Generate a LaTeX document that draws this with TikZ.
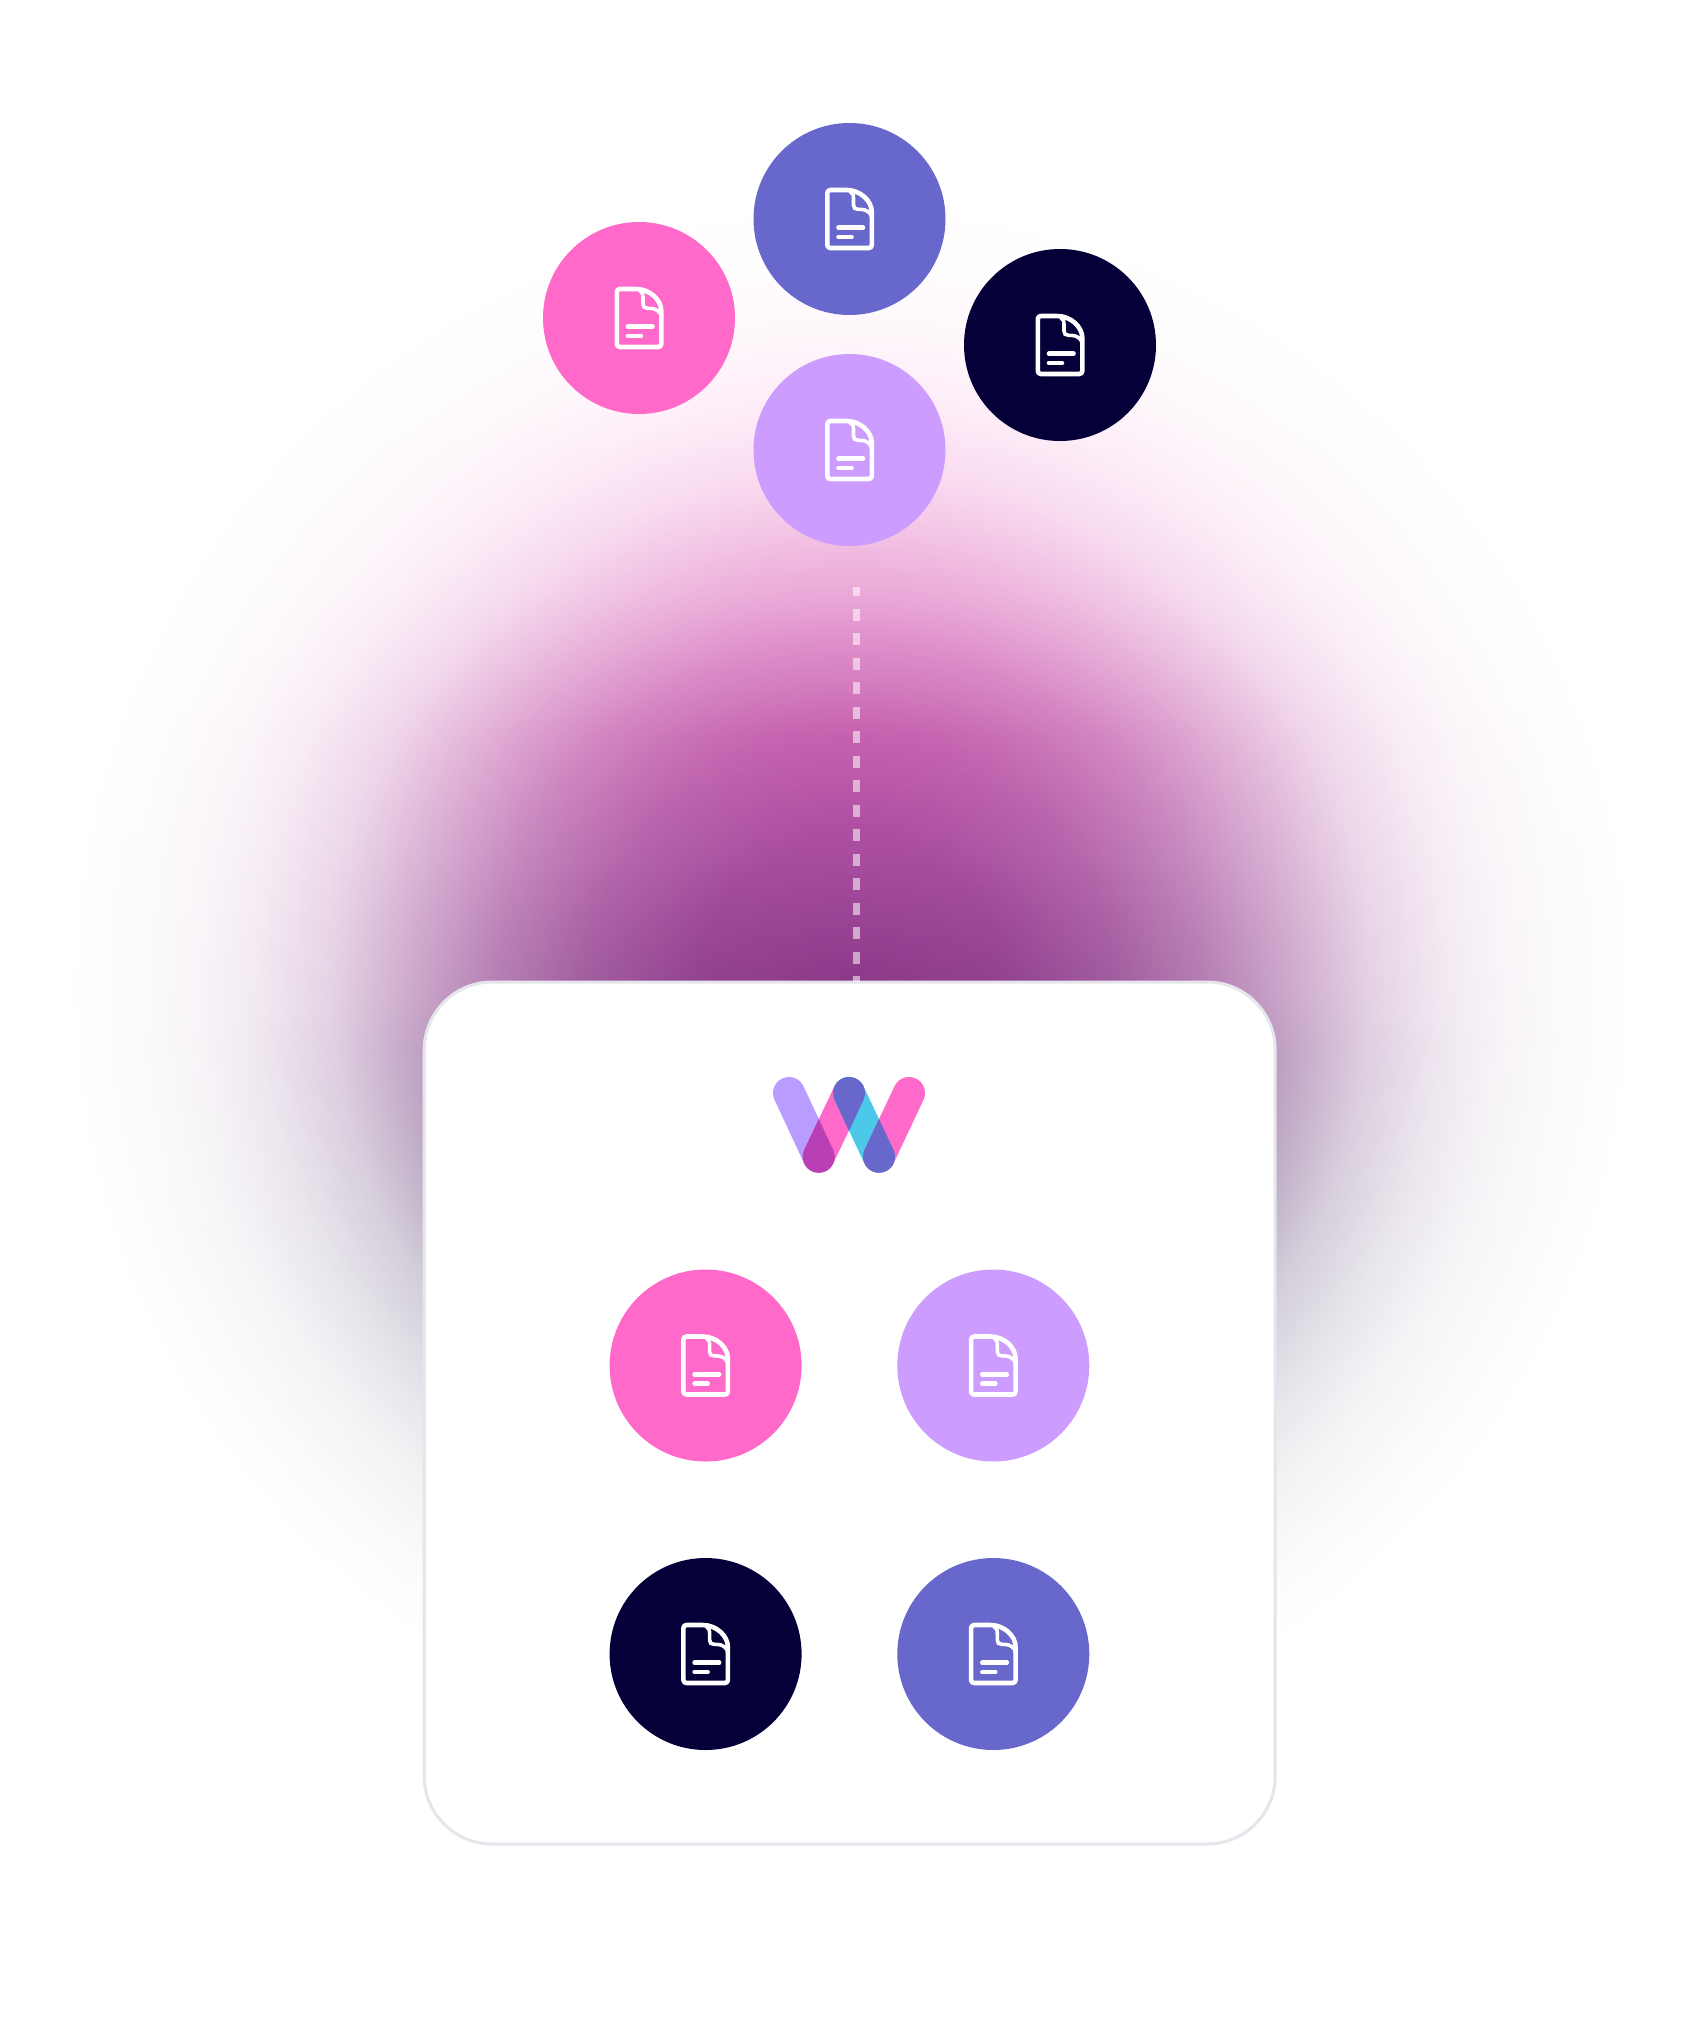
\documentclass[tikz,border=0pt]{standalone}
\usepackage{xcolor}
\usetikzlibrary{
    fadings,
    positioning
}
\definecolor{blobblue}{HTML}{6868CC}
\definecolor{blobpink}{HTML}{FF69C9}
\definecolor{bloblilac}{HTML}{CC9CFF}
\definecolor{blobnavy}{HTML}{050038}
\definecolor{logopurple}{HTML}{B99CFF}
\definecolor{logocyan}{HTML}{4CC8E8}
\definecolor{logoplum}{HTML}{B840B4}
\definecolor{cardline}{HTML}{E5E5EC}
\definecolor{glowa}{HTML}{D961B8}
\definecolor{glowb}{HTML}{BA43A0}
\definecolor{glowc}{HTML}{A5459A}
\definecolor{glowd}{HTML}{8A3888}
\definecolor{glowe}{HTML}{70287A}
\definecolor{glowf}{HTML}{3A2058}
\definecolor{glowg}{HTML}{101040}
\pgfdeclareverticalshading{glowband}{100bp}{
    color(0bp)=(blobnavy);
    color(35.7bp)=(glowg);
    color(42.2bp)=(glowf);
    color(48.4bp)=(glowe);
    color(50bp)=(glowd);
    color(53.8bp)=(glowc);
    color(57.2bp)=(glowb);
    color(61.1bp)=(glowa);
    color(69bp)=(blobpink);
    color(100bp)=(blobpink)}
\pgfdeclareradialshading{glowmask}{\pgfpointorigin}{
    color(0bp)=(pgftransparent!0);
    color(4.2bp)=(pgftransparent!5);
    color(7.2bp)=(pgftransparent!18);
    color(9.7bp)=(pgftransparent!35);
    color(11.9bp)=(pgftransparent!55);
    color(14.4bp)=(pgftransparent!78);
    color(16.4bp)=(pgftransparent!89);
    color(18.1bp)=(pgftransparent!95);
    color(20bp)=(pgftransparent!98.5);
    color(21.7bp)=(pgftransparent!100);
    color(50bp)=(pgftransparent!100)}
\pgfdeclarefading{glowfade}{\pgfuseshading{glowmask}}
\tikzset{
    blob/.style={circle, minimum size=192pt, inner sep=0pt, outer sep=0pt},
    fileicon/.pic={
        \draw[white, line width=4.6pt, rounded corners=3pt, line join=round]
        (-3, -29) -- (-22.2, -29) -- (-22.2, 29) -- (22.3, 29) -- (22.3, -4)
        .. controls (22.3, -18) and (11, -29) .. (-3, -29);
        \draw[white, line width=3.6pt, line cap=round]
        (1, -27) .. controls (3.5, -26) and (4, -24) .. (4, -20) -- (4, -14)
        .. controls (4, -11) and (5.5, -9.7) .. (8.6, -9.7) -- (11, -9.7)
        .. controls (17, -9.7) and (22, -6) .. (22.3, -1);
        \draw[white, line width=4.6pt, line cap=round]
        (-11, 8.7) -- (13.5, 8.7)
        (-11, 18) -- (2, 18);
    },
    capsule/.style={line width=32pt, line cap=round}
}

\begin{document}
\begin{tikzpicture}[x=1pt, y=-1pt]
    \useasboundingbox (0, 0) rectangle (1698, 2022);
    \fill[white] (0, 0) rectangle (1698, 2022);

    % glow behind everything
    \shade[shading=glowband, path fading=glowfade, fit fading=true]
    (-49, 87) rectangle (1751, 1887);

    % dashes run down into the card
    \coordinate (dashtop) at (856.7, 587);
    \node[draw=cardline, fill=white, line width=3pt, rounded corners=68pt, minimum width=851pt,
        minimum height=862pt, inner sep=0pt, outer sep=0pt] (card) at (849.7, 1413) {};
    \draw[white, opacity=0.55, line width=6.5pt, dash pattern=on 12pt off 12.5pt, dash phase=3pt]
    (dashtop) -- (dashtop |- card.north);

    % loose documents
    \node[blob, fill=blobblue] (docblue) at (849.5, 219) {};
    \node[blob, fill=blobpink] (docpink) at (639, 318) {};
    \node[blob, fill=blobnavy] (docnavy) at (1060, 345) {};
    \node[blob, fill=bloblilac] (doclilac) at (849.5, 450) {};

    % documents in the card
    \node[blob, fill=blobpink] (cardpink) at (705.6, 1365.5) {};
    \node[blob, fill=bloblilac] (cardlilac) at (993.3, 1365.5) {};
    \node[blob, fill=blobnavy] (cardnavy) at (705.6, 1654) {};
    \node[blob, fill=blobblue] (cardblue) at (993.3, 1654) {};

    \foreach \doc in {docblue, docpink, docnavy, doclilac, cardpink, cardlilac, cardnavy, cardblue}
    \pic at (\doc) {fileicon};

    % logo
    \draw[capsule, logopurple] (789, 1093) -- (818.7, 1156.7);
    \draw[capsule, blobpink] (849, 1093) -- (818.7, 1156.7);
    \draw[capsule, logocyan] (849, 1093) -- (879, 1156.7);
    \draw[capsule, blobpink] (909, 1093) -- (879, 1156.7);
    \fill[logoplum] (818.7, 1156.7) circle (16);
    \fill[logoplum] (818.7, 1119) -- (804.2, 1149.9) -- (818.7, 1170) -- (833.2, 1149.9) -- cycle;
    \fill[blobblue] (849, 1093) circle (16);
    \fill[blobblue] (849, 1131) -- (834.5, 1099.8) -- (849, 1080) -- (863.5, 1099.8) -- cycle;
    \fill[blobblue] (879, 1156.7) circle (16);
    \fill[blobblue] (879, 1119) -- (864.5, 1149.9) -- (879, 1170) -- (893.5, 1149.9) -- cycle;
\end{tikzpicture}
\end{document}
